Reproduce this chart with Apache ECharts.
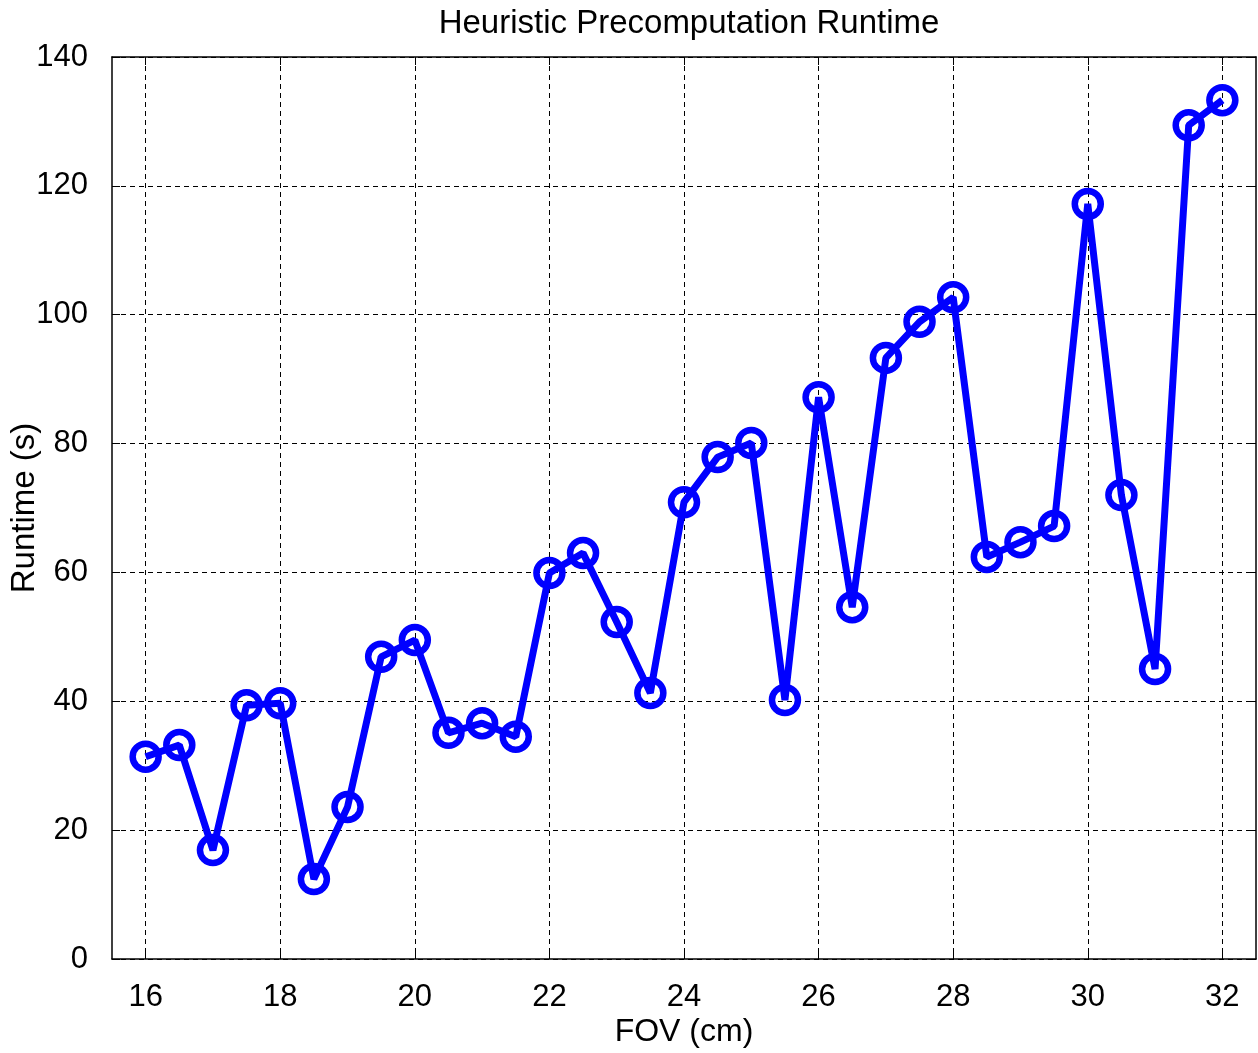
<!DOCTYPE html>
<html>
<head>
<meta charset="utf-8">
<script src="https://cdn.jsdelivr.net/npm/echarts@6/dist/echarts.min.js"></script>
<style>html,body{margin:0;padding:0;background:#fff;}#c{width:1258px;height:1053px;}</style>
</head>
<body>
<div id="c"></div>
<script>
const fov = [16,16.5,17,17.5,18,18.5,19,19.5,20,20.5,21,21.5,22,22.5,23,23.5,24,24.5,25,25.5,26,26.5,27,27.5,28,28.5,29,29.5,30,30.5,31,31.5,32];
const runtime = [31.4,33.2,16.9,39.4,39.7,12.4,23.6,46.9,49.5,35.1,36.6,34.5,59.9,63.0,52.3,41.3,70.9,77.9,80.1,40.2,87.2,54.6,93.3,98.9,102.7,62.4,64.7,67.2,117.2,72.0,45.0,129.4,133.3];
const xTicks = [16,18,20,22,24,26,28,30,32];
const yTicks = [0,20,40,60,80,100,120,140];

const chart = echarts.init(document.getElementById('c'), null, {renderer:'canvas'});
const font = 'Liberation Sans, Arial, Helvetica, sans-serif';
const gridDash = {show:true, lineStyle:{color:'#000', type:[5,4], width:1}};
chart.setOption({
  animation:false,
  backgroundColor:'#fff',
  title:{text:'Heuristic Precomputation Runtime', left:684, top:2, textAlign:'center',
    textStyle:{fontFamily:font, fontSize:33, fontWeight:'normal', color:'#000'}},
  grid:{left:112, right:2, top:57, bottom:94, outerBoundsMode:'none', containLabel:false},
  xAxis:[{
    type:'value', min:15.5, max:32.5,
    position:'bottom',
    name:'FOV (cm)', nameLocation:'middle', nameGap:57, nameMoveOverlap:false,
    nameTextStyle:{fontFamily:font, fontSize:32, color:'#000'},
    axisLine:{show:true, onZero:false, lineStyle:{color:'#000', width:1.5}},
    axisTick:{show:true, inside:true, length:8, lineStyle:{color:'#000'}, customValues:xTicks},
    axisLabel:{fontFamily:font, fontSize:31, color:'#000', margin:23, customValues:xTicks},
    splitLine:gridDash
  },{
    type:'value', min:15.5, max:32.5, position:'top',
    axisLine:{show:true, onZero:false, lineStyle:{color:'#000', width:1.5}},
    axisTick:{show:true, inside:true, length:8, lineStyle:{color:'#000'}, customValues:xTicks},
    axisLabel:{show:false}, splitLine:{show:false}
  }],
  yAxis:[{
    type:'value', min:0, max:140, interval:20,
    name:'Runtime (s)', nameLocation:'middle', nameGap:71, nameMoveOverlap:false,
    nameTextStyle:{fontFamily:font, fontSize:33, color:'#000'},
    axisLine:{show:true, onZero:false, lineStyle:{color:'#000', width:1.5}},
    axisTick:{show:true, inside:true, length:8, lineStyle:{color:'#000'}, customValues:yTicks},
    axisLabel:{fontFamily:font, fontSize:31, color:'#000', margin:24, customValues:yTicks},
    splitLine:gridDash
  },{
    type:'value', min:0, max:140, interval:20, position:'right',
    axisLine:{show:true, onZero:false, lineStyle:{color:'#000', width:1.5}},
    axisTick:{show:true, inside:true, length:8, lineStyle:{color:'#000'}, customValues:yTicks},
    axisLabel:{show:false}, splitLine:{show:false}
  }],
  series:[{
    type:'line',
    data: fov.map((x,i)=>[x, runtime[i]]),
    symbol:'circle', symbolSize:26,
    itemStyle:{color:'rgba(0,0,0,0)', borderColor:'#0000ff', borderWidth:6.5},
    lineStyle:{color:'#0000ff', width:7},
    z:5
  }]
});
</script>
</body>
</html>
